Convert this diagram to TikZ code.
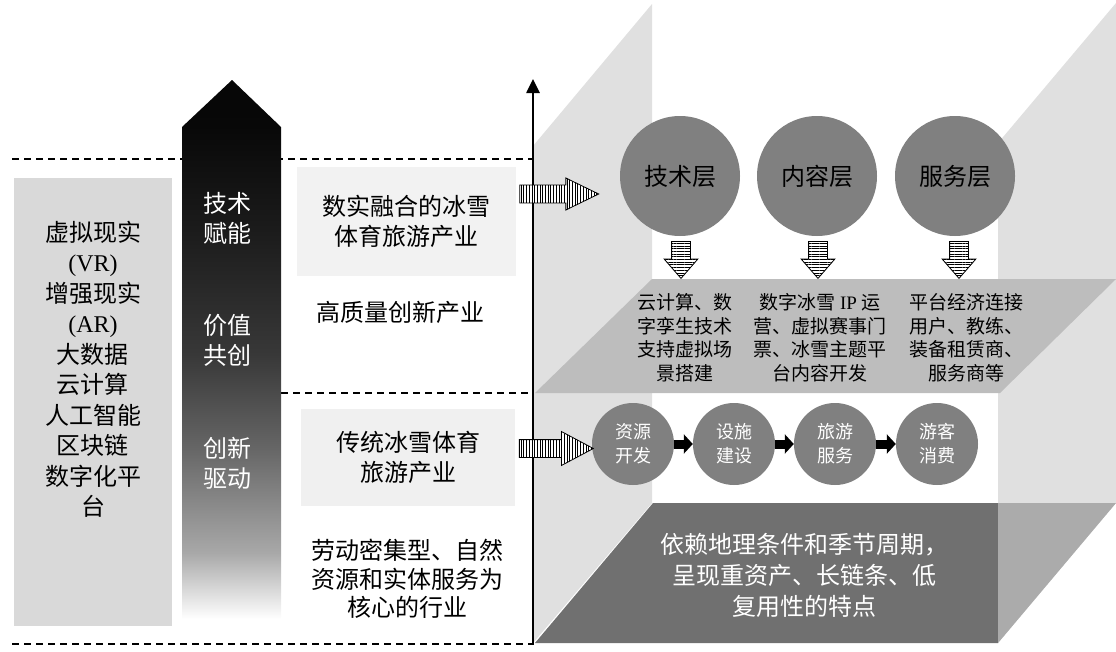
\documentclass[tikz,border=0pt]{standalone}
\usepackage{fontspec}
\setmainfont{Noto Sans CJK SC}
\newfontfamily\lat{Liberation Serif}
\usetikzlibrary{arrows.meta,positioning,shapes.arrows,patterns.meta}
\pgfdeclareverticalshading{fadebar}{100bp}{color(0bp)=(white); color(26bp)=(white); color(32bp)=(black!34); color(41.5bp)=(black!60); color(50bp)=(black!78); color(61bp)=(black!89); color(71bp)=(black!97); color(100bp)=(black)}

\begin{document}
\begin{tikzpicture}[x=1pt,y=-1pt,
big/.style={font=\fontsize{24}{30.5}\selectfont,align=center,inner sep=0pt},
mid/.style={font=\fontsize{19}{23.5}\selectfont,align=center,inner sep=0pt},
panel/.style={big,minimum width=#1,inner sep=0pt},
layer/.style={circle,fill=black!50,minimum size=120pt,inner sep=0pt,font=\fontsize{24}{30}\selectfont},
stage/.style={circle,fill=black!50,minimum size=82pt,inner sep=0pt,align=center,text=white,font=\fontsize{18}{24}\selectfont},
stripe/.style={single arrow,draw,line width=0.8pt,inner sep=0pt,preaction={fill=white}},
hstripe/.style={stripe,text height=8.5pt,text depth=8.5pt,pattern={Lines[angle=90,distance=2.7pt,line width=0.8pt]}},
dstripe/.style={stripe,shape border rotate=270,text width=18pt,text height=0pt,text depth=0pt,minimum height=37pt,minimum width=33pt,single arrow head extend=7.5pt,single arrow tip angle=82,pattern={Lines[angle=0,distance=2.7pt,line width=0.8pt]}},
blk/.style={line width=9pt,-{Triangle[width=19pt,length=9pt]}},
divider/.style={dashed,dash pattern=on 7pt off 5pt,line width=2pt}]
\useasboundingbox (0,0) rectangle (1116,651);
\fill[black!12] (533,146) -- (652,4) -- (652,503) -- (533,643) -- cycle;
\fill[black!12] (998,143) -- (1116,3) -- (1116,503) -- (998,643) -- cycle;
\fill[black!26] (535,393) -- (652,279) -- (1116,279) -- (1000,393) -- cycle;
\fill[black!56] (535,643) -- (653,503) -- (998,503) -- (998,643) -- cycle;
\fill[black!33] (998,503) -- (1116,503) -- (998,643) -- cycle;
\draw[divider] (12,159) -- (533,159);
\draw[divider] (281,393) -- (533,393);
\draw[divider] (12,644) -- (533,644);
\shade[shading=fadebar] (182,630) -- (182,127) -- (232,80) -- (281,127) -- (281,630) -- cycle;
\node[fill=black!15,minimum width=158pt,minimum height=448pt,inner sep=0pt] (techbox) at (92.5,402) {};
\node[big] (techlist) at (93,369.5) {虚拟现实\\{\lat (VR)}\\增强现实\\{\lat (AR)}\\大数据\\云计算\\人工智能\\区块链\\数字化平\\台};
\node[big,text=white,font=\fontsize{24}{30}\selectfont] (enable) at (227,218) {技术\\赋能};
\node[big,text=white,font=\fontsize{24}{30}\selectfont] (cocreate) at (227,340) {价值\\共创};
\node[big,text=white,font=\fontsize{24}{30}\selectfont] (drive) at (227,463) {创新\\驱动};
\node[panel=219pt,fill=black!5,minimum height=109pt] (digi) at (406.5,221.5) {数实融合的冰雪\\体育旅游产业};
\node[big] (hq) at (400,312) {高质量创新产业};
\node[panel=214pt,fill=black!6,minimum height=97pt] (trad) at (408,457.5) {传统冰雪体育\\旅游产业};
\node[big,font=\fontsize{24}{28.5}\selectfont] (labor) at (407,579) {劳动密集型、自然\\资源和实体服务为\\核心的行业};
\coordinate (axB) at (533,645);
\coordinate (axT) at (533,79);
\draw[line width=2.6pt,-{Triangle[width=13pt,length=14pt]}] (axB) -- (axT);
\node[layer] (techL) at (680,176) {技术层};
\node[layer] (contL) at (817,176) {内容层};
\node[layer] (servL) at (955,176) {服务层};
\node[dstripe] (dT) at (681,254.5) {};
\node[dstripe] (dC) at (818,254.5) {};
\node[dstripe] (dS) at (959,254.5) {};
\node[mid] (techD) at (685,337.5) {云计算、数\\字孪生技术\\支持虚拟场\\景搭建};
\node[mid] (contD) at (820,337.5) {数字冰雪 {\lat IP} 运\\营、虚拟赛事门\\票、冰雪主题平\\台内容开发};
\node[mid] (servD) at (966,337.5) {平台经济连接\\用户、教练、\\装备租赁商、\\服务商等};
\node[stage] (res) at (633,444) {资源\\开发};
\node[stage] (fac) at (734,444) {设施\\建设};
\node[stage] (tour) at (835,444) {旅游\\服务};
\node[stage] (cons) at (937,444) {游客\\消费};
\foreach \a/\b in {res/fac,fac/tour,tour/cons}
  \draw[blk] (\a) -- (\b);
\node[big,text=white,font=\fontsize{24}{31}\selectfont] (trait) at (804,575) {依赖地理条件和季节周期，\\呈现重资产、长链条、低\\复用性的特点};
\node[hstripe,minimum height=79pt,minimum width=32pt,single arrow head extend=7pt,single arrow tip angle=52] (inA) at (550,194) {};
\node[hstripe,minimum height=74pt,minimum width=33pt,single arrow head extend=8pt,single arrow tip angle=56] (inB) at (548,448.5) {};
\end{tikzpicture}
\end{document}
